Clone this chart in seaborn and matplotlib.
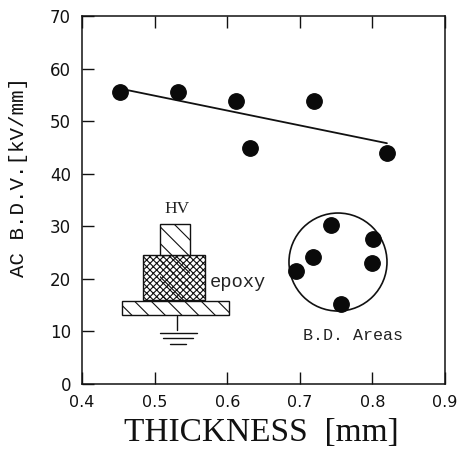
import matplotlib
matplotlib.use('Agg')
import matplotlib.pyplot as plt
from matplotlib.patches import Rectangle, Ellipse
import pandas as pd
import seaborn as sns

# 数据
thickness = [0.452, 0.532, 0.612, 0.631, 0.72, 0.82]
bdv = [55.5, 55.5, 53.8, 44.9, 53.8, 44.0]
fit_x = [0.452, 0.82]
fit_y = [56.2, 45.8]
area_x = [0.743, 0.801, 0.718, 0.799, 0.695, 0.757]
area_y = [30.2, 27.6, 24.2, 23.0, 21.5, 15.2]
x_ticks = [0.4, 0.5, 0.6, 0.7, 0.8, 0.9]
y_ticks = [0, 10, 20, 30, 40, 50, 60, 70]

sns.set_style('ticks')
plt.rcParams['hatch.linewidth'] = 0.8

fig = plt.figure(figsize=(4.57, 4.5), dpi=100)
ax = fig.add_axes([82 / 457, 66 / 450, 363 / 457, 368 / 450])

df = pd.DataFrame({'thickness': thickness, 'bdv': bdv})
sns.lineplot(x=fit_x, y=fit_y, color='#111111', linewidth=1.3, ax=ax)
sns.scatterplot(data=df, x='thickness', y='bdv', s=125, color='#0a0a0a', edgecolor='#0a0a0a', zorder=5, ax=ax)

# 右下角 B.D. 区域
ax.add_patch(Ellipse((0.7526, 23.2), 0.135, 18.64, fill=False, edgecolor='#111111', linewidth=1.2))
sns.scatterplot(x=area_x, y=area_y, s=125, color='#0a0a0a', edgecolor='#0a0a0a', zorder=5, ax=ax)
ax.text(0.7726, 9.2, 'B.D. Areas', family='Liberation Mono', fontsize=12, ha='center', va='center', color='#222222')

# 电极示意图
ax.add_patch(Rectangle((0.484, 16.0), 0.0854, 8.5, facecolor='white', edgecolor='#111111', hatch='xxxxx', linewidth=1.0))
ax.add_patch(Rectangle((0.5074, 16.0), 0.0414, 8.5, fill=False, edgecolor='#111111', hatch='\\\\', linewidth=0))
ax.add_patch(Rectangle((0.5074, 24.5), 0.0414, 5.9, facecolor='white', edgecolor='#111111', hatch='\\\\', linewidth=1.0))
ax.add_patch(Rectangle((0.455, 13.1), 0.1475, 2.7, facecolor='white', edgecolor='#111111', hatch='\\\\', linewidth=1.0))
ax.plot([0.5309, 0.5309], [12.9, 10.3], color='#111111', linewidth=1.0)
ax.plot([0.5074, 0.5584], [9.7, 9.7], color='#111111', linewidth=1.0)
ax.plot([0.5116, 0.5529], [8.75, 8.75], color='#111111', linewidth=1.0)
ax.plot([0.5212, 0.5433], [7.6, 7.6], color='#111111', linewidth=1.0)
ax.text(0.5309, 33.3, 'HV', family='Liberation Serif', fontsize=12.5, ha='center', va='center', color='#222222')
ax.text(0.5765, 19.3, 'epoxy', family='Liberation Mono', fontsize=13.5, ha='left', va='center', color='#222222')

ax.set_xlim(0.4, 0.9)
ax.set_ylim(0, 70)
ax.set_xticks(x_ticks)
ax.set_yticks(y_ticks)
ax.set_xticklabels(['0.4', '0.5', '0.6', '0.7', '0.8', '0.9'], fontsize=11.5, family='DejaVu Sans')
ax.set_yticklabels(y_ticks, fontsize=12, family='DejaVu Sans')
ax.tick_params(axis='both', direction='in', length=8.5, width=1.0, colors='#111111')
ax.tick_params(axis='x', top=True, pad=8)
ax.tick_params(axis='y', right=False, pad=8)
for s in ax.spines.values():
    s.set_visible(True)
    s.set_linewidth(1.1)
    s.set_color('#111111')

ax.set_xlabel('THICKNESS  [mm]', family='Liberation Serif', fontsize=24, color='#111111')
ax.xaxis.set_label_coords(0.495, -0.133)
ax.xaxis.label.set_va('center')
ax.set_ylabel('AC B.D.V.[kV/mm]', family='Liberation Mono', fontsize=15, color='#111111')
ax.yaxis.set_label_coords(-0.176, 0.5625)
ax.yaxis.label.set_va('center')

fig.savefig('out.png', dpi=100)
